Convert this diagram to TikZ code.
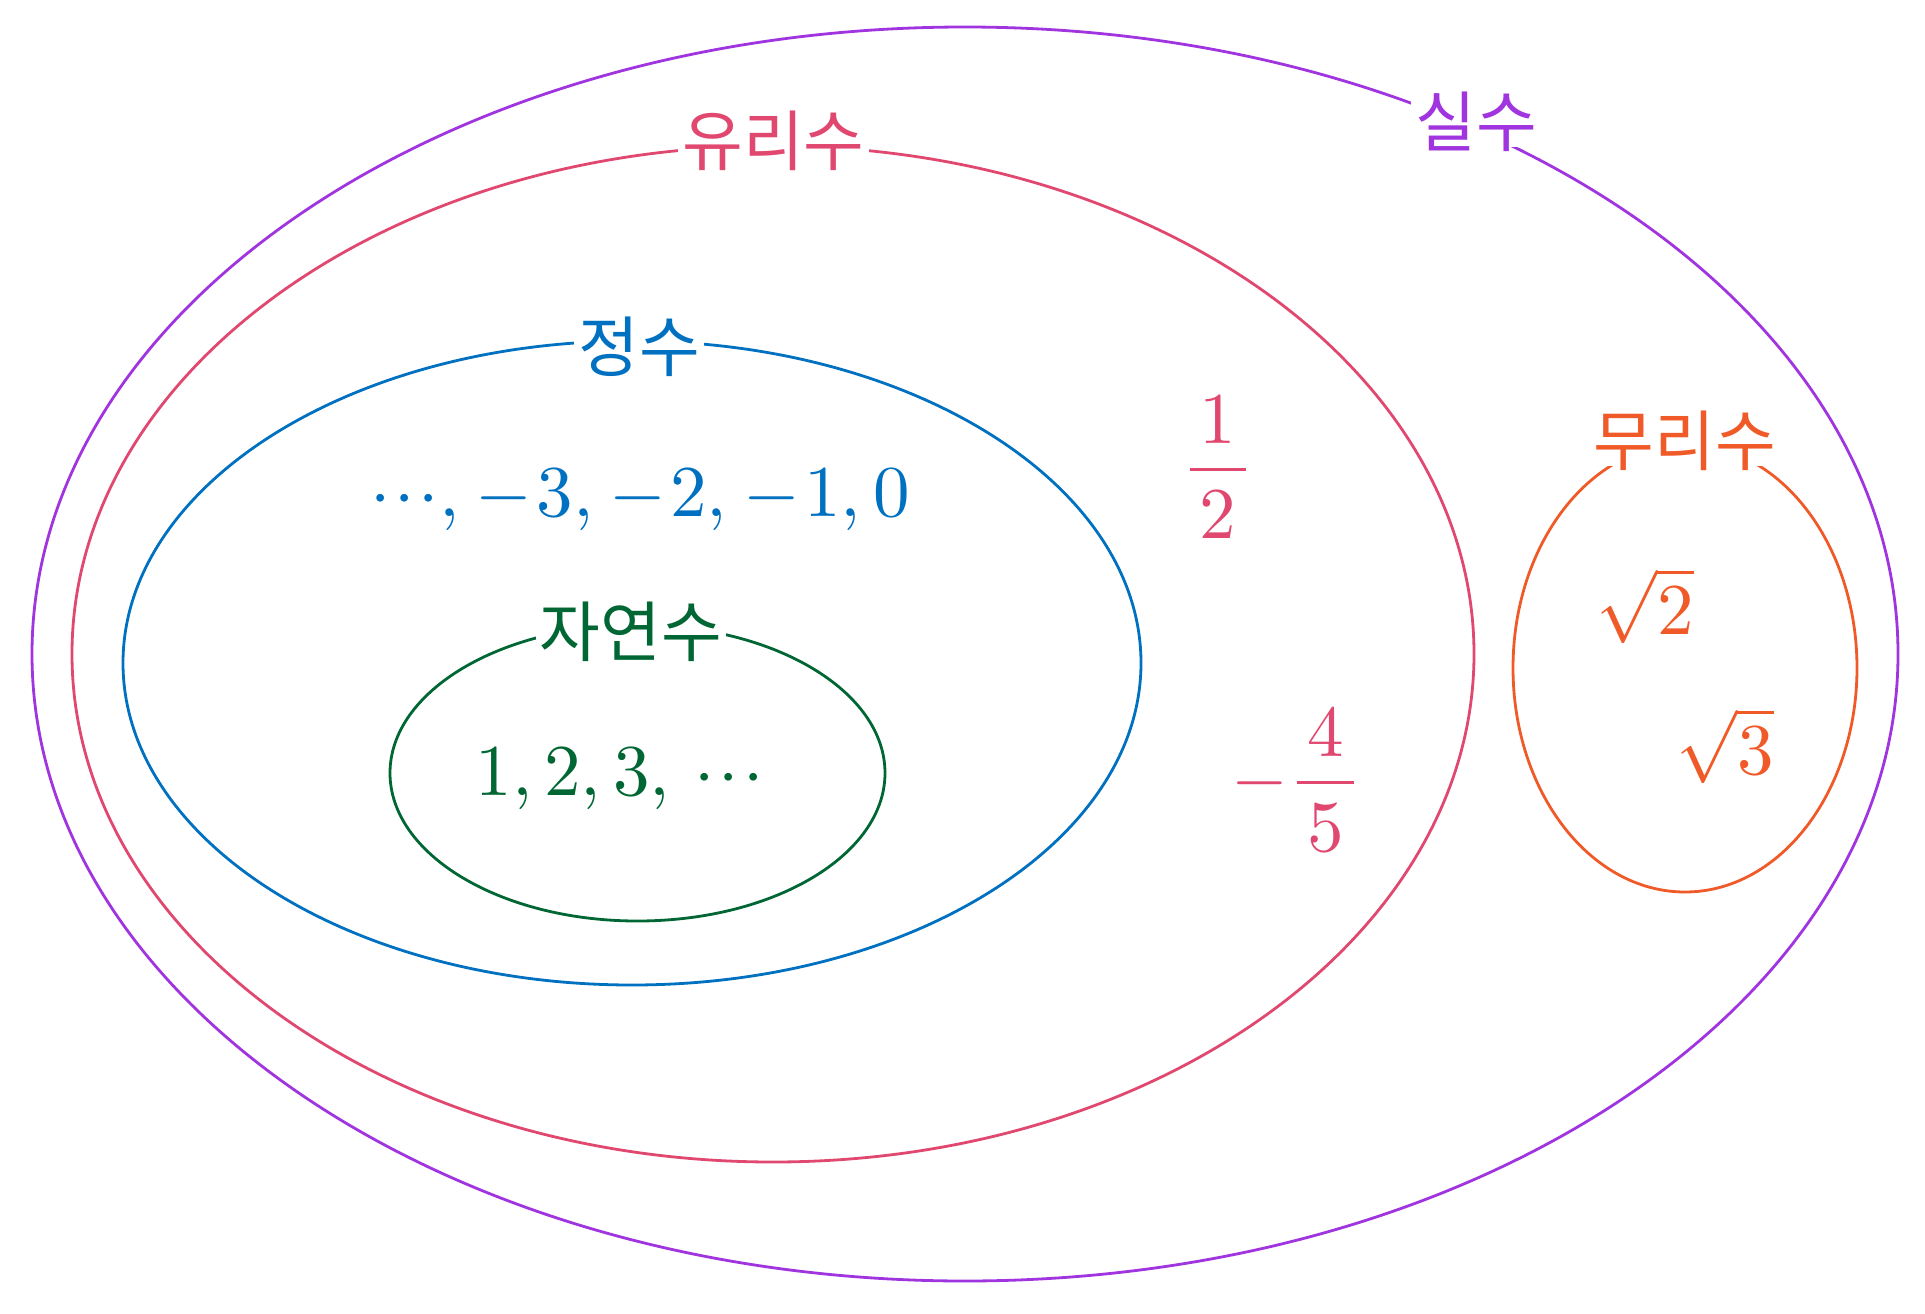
\documentclass[tikz,border=0pt]{standalone}
\usepackage{fontspec}
\newfontfamily\kr{Noto Sans CJK KR}
\definecolor{cpurple}{HTML}{A035E0}
\definecolor{cred}{HTML}{E04870}
\definecolor{cblue}{HTML}{0070C0}
\definecolor{cgreen}{HTML}{006633}
\definecolor{corange}{HTML}{F05A28}
\newcommand\mycdots{{{\cdotp}\mkern1mu{\cdotp}\mkern1mu{\cdotp}}}
\newcommand\myneg{\mkern1mu{-}\mkern1mu}
\newcommand\myfrac[2]{\frac{\mkern2.5mu\lower0.7pt\hbox{$#1$}\mkern2.5mu}{\mkern2.5mu#2\mkern2.5mu}}
\begin{document}
\begin{tikzpicture}[x=1pt,y=-1pt,
  setline/.style={line width=2.8pt},
  lab/.style={fill=white,inner xsep=4pt,inner ysep=1pt,text depth=0pt,anchor=base,
    font=\kr\fontsize{66}{80}\selectfont},
  mth/.style={inner sep=0pt,anchor=base,scale=7.3,font=\fontsize{10}{12}\selectfont}]
\useasboundingbox (0,0) rectangle (1925,1314);
% sets
\draw[setline,cpurple] (965,654) ellipse [x radius=933, y radius=627];
\draw[setline,cred] (773,654) ellipse [x radius=701, y radius=508];
\draw[setline,cblue] (632,663) ellipse [x radius=509, y radius=322];
\draw[setline,cgreen] (637.5,773) ellipse [x radius=247.5, y radius=148];
\draw[setline,corange] (1685,668) ellipse [x radius=172, y radius=224];
% labels
\node[lab,text=cpurple] (real) at (1476,146) {실수};
\node[lab,text=cred] (rat) at (773.5,165) {유리수};
\node[lab,text=cblue] (int) at (639,371) {정수};
\node[lab,text=cgreen] (nat) at (631,656) {자연수};
\node[lab,text=corange] (irr) at (1685,465) {무리수};
% elements
\node[mth,text=cblue] (intel) at (640,516) {$\mycdots, \myneg3, \myneg2, \myneg1, 0$};
\node[mth,text=cgreen] (natel) at (619.5,795) {$1,2,3,\mkern3mu\mycdots$};
\node[mth,text=cred] (half) at (1218,488) {$\displaystyle\myfrac{1}{2}$};
\node[mth,text=cred] (fourfifth) at (1297,801) {$\displaystyle -\myfrac{4}{5}$};
\node[mth,text=corange] (sqrttwo) at (1645,634) {$\sqrt{2}$};
\node[mth,text=corange] (sqrtthree) at (1725,774) {$\sqrt{3}$};
\end{tikzpicture}
\end{document}
